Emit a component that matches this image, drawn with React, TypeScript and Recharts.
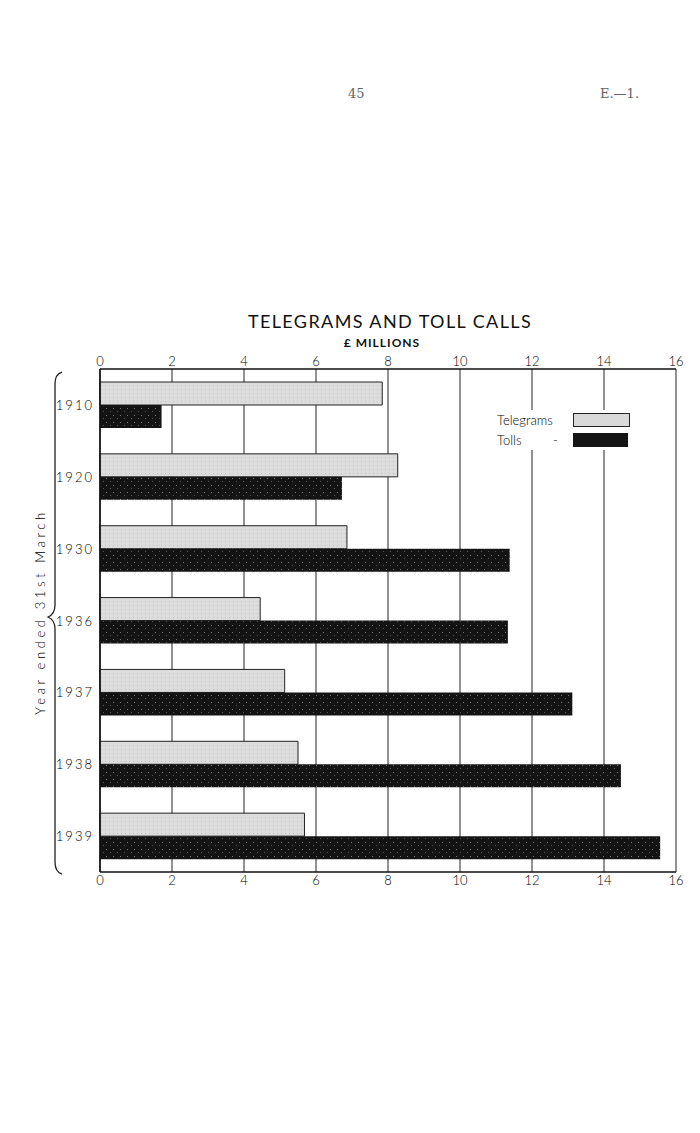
import React from "react";
import { BarChart, Bar, XAxis, YAxis, CartesianGrid } from "recharts";

const years = ["1910", "1920", "1930", "1936", "1937", "1938", "1939"];
const telegrams = [7.84, 8.27, 6.86, 4.45, 5.13, 5.5, 5.68];
const tolls = [1.71, 6.72, 11.38, 11.33, 13.12, 14.47, 15.56];
const xTicks = [0, 2, 4, 6, 8, 10, 12, 14, 16];

const data = years.map((y, i) => ({ year: y, telegrams: telegrams[i], tolls: tolls[i] }));

const FONT = "Lato, 'Open Sans', sans-serif";

const YTick = (props: any) => {
  const { x, y, payload } = props;
  return (
    <text x={x} y={y} dy={5} textAnchor="end" fontFamily={FONT} fontWeight={300} fontSize={13} fill="#000" letterSpacing={2}>
      {payload.value}
    </text>
  );
};

const legendItems = [
  { label: "Telegrams", dash: "", fill: "#d9d9d9", border: "1px solid #222", h: 12 },
  { label: "Tolls", dash: "-", fill: "#151515", border: "none", h: 14 },
];

export default function App() {
  return (
    <div style={{ position: "absolute", left: 0, top: 0, width: 700, height: 1133, background: "#fff" }}>
      <div style={{ position: "absolute", left: 348, top: 86, fontFamily: "'DejaVu Serif', serif", fontSize: 13, color: "#666" }}>45</div>
      <div style={{ position: "absolute", left: 600, top: 86, fontFamily: "'DejaVu Serif', serif", fontSize: 13, color: "#666" }}>E.—1.</div>
      <div style={{ position: "absolute", left: 0, width: 780, top: 310, textAlign: "center", fontFamily: FONT, fontWeight: 400, fontSize: 18, letterSpacing: 1.4, color: "#111" }}>
        TELEGRAMS AND TOLL CALLS
      </div>
      <div style={{ position: "absolute", left: 0, width: 764, top: 336, textAlign: "center", fontFamily: FONT, fontSize: 12, fontWeight: 700, letterSpacing: 1, color: "#111", lineHeight: "14px" }}>
        £ MILLIONS
      </div>
      <div
        style={{
          position: "absolute",
          left: 40,
          top: 612,
          transform: "translate(-50%, -50%) rotate(-90deg)",
          fontFamily: FONT,
          fontWeight: 300,
          fontSize: 13,
          letterSpacing: 3.6,
          color: "#000",
          whiteSpace: "nowrap",
        }}
      >
        Year ended 31st March
      </div>
      <svg style={{ position: "absolute", left: 0, top: 0 }} width={100} height={1133}>
        <path
          d="M62,372 Q55,374 55,384 L55,605 Q55,614 48,617 Q55,620 55,629 L55,862 Q55,872 62,874"
          fill="none"
          stroke="#222"
          strokeWidth={1.3}
        />
      </svg>
      <BarChart
        width={700}
        height={1133}
        data={data}
        layout="vertical"
        margin={{ top: 339, right: 24, bottom: 231, left: 50 }}
        barGap={0}
        barSize={23}
        style={{ position: "absolute", left: 0, top: 0 }}
      >
        <defs>
          <pattern id="speckle" width="7" height="7" patternUnits="userSpaceOnUse">
            <rect width="7" height="7" fill="#141414" />
            <rect x="1" y="2" width="1" height="1" fill="#777" />
            <rect x="5" y="5" width="1" height="1" fill="#555" />
          </pattern>
          <pattern id="grayfill" width="4" height="4" patternUnits="userSpaceOnUse">
            <rect width="4" height="4" fill="#dcdcdc" />
            <rect x="1" y="1" width="1" height="1" fill="#c4c4c4" />
          </pattern>
        </defs>
        <CartesianGrid xAxisId="top" horizontal={false} vertical={true} stroke="#222" strokeWidth={1} />
        <XAxis
          xAxisId="top"
          orientation="top"
          type="number"
          domain={[0, 16]}
          ticks={xTicks}
          height={30}
          tickLine={false}
          tickSize={0}
          tickMargin={3}
          axisLine={{ stroke: "#111", strokeWidth: 1.6 }}
          tick={{ fontFamily: FONT, fontWeight: 300, fontSize: 13, fill: "#000" }}
        />
        <XAxis
          xAxisId="bottom"
          orientation="bottom"
          type="number"
          domain={[0, 16]}
          allowDataOverflow={true}
          ticks={xTicks}
          height={30}
          tickLine={false}
          tickSize={0}
          tickMargin={4}
          axisLine={{ stroke: "#111", strokeWidth: 1.6 }}
          tick={{ fontFamily: FONT, fontWeight: 300, fontSize: 13, fill: "#000" }}
        />
        <YAxis
          type="category"
          dataKey="year"
          width={50}
          tickLine={false}
          tickSize={0}
          tickMargin={6}
          axisLine={{ stroke: "#111", strokeWidth: 1.6 }}
          tick={<YTick />}
        />
        <Bar xAxisId="top" dataKey="telegrams" name="Telegrams" fill="url(#grayfill)" stroke="#222" strokeWidth={1} isAnimationActive={false} />
        <Bar xAxisId="top" dataKey="tolls" name="Tolls" fill="url(#speckle)" isAnimationActive={false} />
      </BarChart>
      <div style={{ position: "absolute", left: 497, top: 410, width: 140, fontFamily: FONT, fontWeight: 300, fontSize: 13, color: "#000", background: "#fff" }}>
        {legendItems.map((it) => (
          <div key={it.label} style={{ display: "flex", alignItems: "center", height: 20 }}>
            <span style={{ width: 56 }}>{it.label}</span>
            <span style={{ width: 20 }}>{it.dash}</span>
            <span style={{ width: 55, height: it.h, background: it.fill, border: it.border, display: "inline-block" }} />
          </div>
        ))}
      </div>
    </div>
  );
}
